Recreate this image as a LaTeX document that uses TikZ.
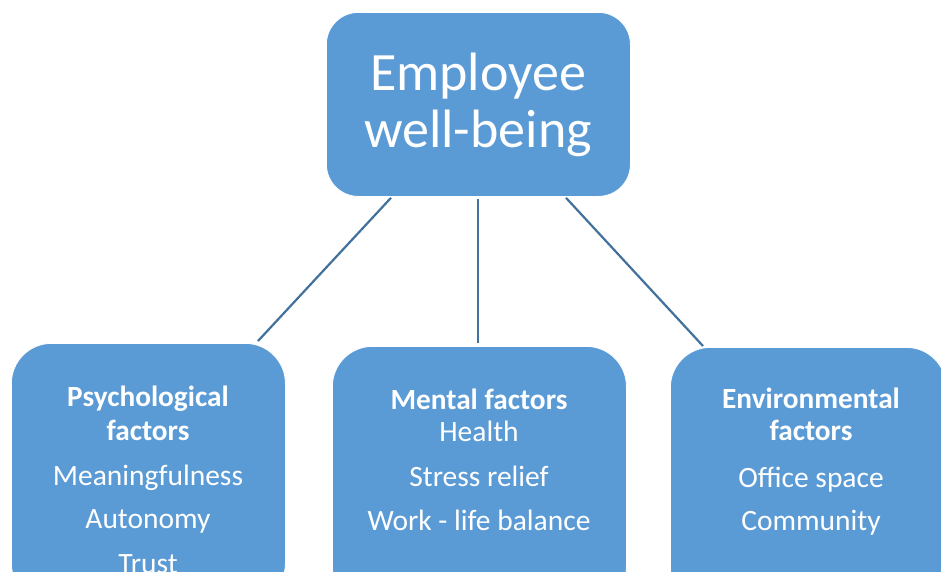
\documentclass[tikz,border=0pt]{standalone}
\usepackage{fontspec}
\setmainfont{Carlito}
\definecolor{boxblue}{HTML}{5B9BD5}
\definecolor{linkblue}{HTML}{41719C}
\begin{document}
\begin{tikzpicture}[x=1pt,y=-1pt,
  box/.style={draw=white, line width=0.8pt, fill=boxblue, inner sep=0pt, anchor=north west},
  link/.style={draw=linkblue, line width=2.2pt},
  title/.style={text=white, font=\fontsize{54}{57}\selectfont, anchor=base},
  head/.style={text=white, font=\fontsize{29.3}{32}\selectfont\bfseries, anchor=base},
  item/.style={text=white, font=\fontsize{29.5}{32}\selectfont, anchor=base}]
\useasboundingbox (0,0) rectangle (941,571);
\clip (0,0) rectangle (941,571);

% boxes
\node[box, rounded corners=32pt, minimum width=304pt, minimum height=184pt] (top) at (326,12) {};
\node[box, rounded corners=40pt, minimum width=274pt, minimum height=260pt] (psy) at (11,343) {};
\node[box, rounded corners=40pt, minimum width=294pt, minimum height=260pt] (men) at (332,346) {};
\node[box, rounded corners=40pt, minimum width=276pt, minimum height=260pt] (env) at (670,347) {};

% connectors
\path (top.south west) ++(65,1) coordinate (t1);
\path (top.south west) ++(152,2) coordinate (t2);
\path (top.south west) ++(240,1) coordinate (t3);
\coordinate (b1) at (258,341);
\coordinate (b2) at (478,343);
\coordinate (b3) at (703,346);
\draw[link] (t1) -- (b1);
\draw[link] (t2) -- (b2);
\draw[link] (t3) -- (b3);

% top label
\node[title] (emp) at (478,90) {Employee};
\node[title] (wb) at (478,147) {well-being};

% psychological
\node[head] (psyh1) at (148,406) {Psychological};
\node[head] (psyh2) at (148,440) {factors};
\node[item] (psy1) at (148,485) {Meaningfulness};
\node[item] (psy2) at (148,528) {Autonomy};
\node[item] (psy3) at (148,573) {Trust};

% mental
\node[head] (menh) at (479,409) {Mental factors};
\node[item] (men1) at (479,441) {Health};
\node[item] (men2) at (479,486) {Stress relief};
\node[item] (men3) at (479,530) {Work - life balance};

% environmental
\node[head] (envh1) at (811,408) {Environmental};
\node[head] (envh2) at (811,440) {factors};
\node[item] (env1) at (811,487) {Office space};
\node[item] (env2) at (811,530) {Community};
\end{tikzpicture}
\end{document}
